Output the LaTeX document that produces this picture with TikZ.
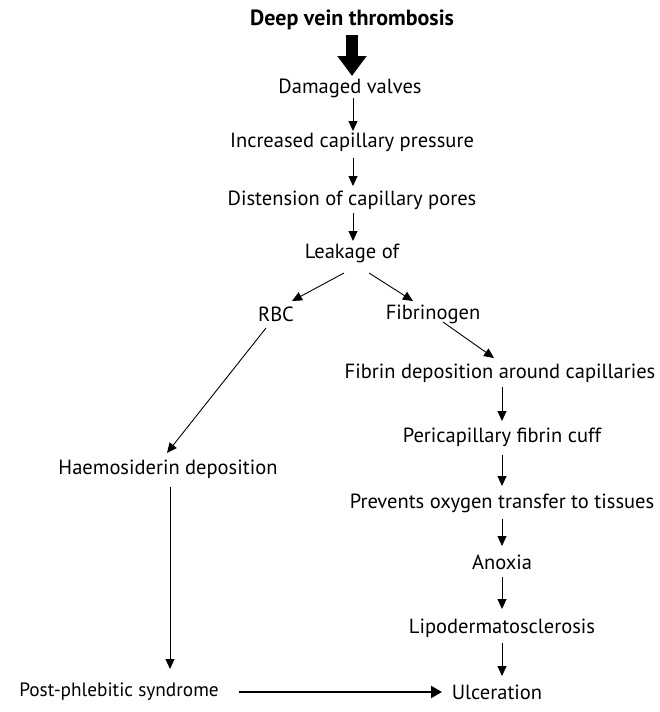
\documentclass[tikz,border=0pt]{standalone}
\usepackage{fontspec}
\setmainfont{PT Sans}
\usetikzlibrary{arrows.meta}
\begin{document}
\begin{tikzpicture}[x=1pt,y=-1pt,
  lbl/.style={font=\fontsize{20.5}{22}\selectfont, inner sep=2pt},
  arr/.style={line width=0.9pt,-{Triangle[length=10pt,width=9pt]}}]
\useasboundingbox (0,0) rectangle (659,712);
\node[lbl,font=\fontsize{22}{24}\selectfont\bfseries] (dvt) at (352,20) {Deep vein thrombosis};
\node[lbl] (dv) at (350,88) {Damaged valves};
\node[lbl] (icp) at (352,142) {Increased capillary pressure};
\node[lbl] (dcp) at (352,200) {Distension of capillary pores};
\node[lbl] (lk) at (352,253) {Leakage of};
\node[lbl] (rbc) at (276,314) {RBC};
\node[lbl] (fib) at (433,314) {Fibrinogen};
\node[lbl] (fd) at (500,373) {Fibrin deposition around capillaries};
\node[lbl] (pfc) at (502,437) {Pericapillary fibrin cuff};
\node[lbl] (pot) at (502,503) {Prevents oxygen transfer to tissues};
\node[lbl] (ax) at (502,562) {Anoxia};
\node[lbl] (lds) at (502,628) {Lipodermatosclerosis};
\node[lbl] (ulc) at (497,692) {Ulceration};
\node[lbl] (hd) at (168,469) {Haemosiderin deposition};
\node[lbl,font=\fontsize{19.3}{22}\selectfont] (pps) at (119,692) {Post-phlebitic syndrome};
\coordinate (a1) at (352,35);
\coordinate (a2) at (352,76);
\coordinate (ps) at (239,692);
\coordinate (pe) at (442,692);
\draw[line width=12pt,-{Triangle[length=20pt,width=28pt]}] (a1) -- (a2);
\draw[arr] (353,98) -- (353,131);
\draw[arr] (353,158) -- (353,186);
\draw[arr] (353,213) -- (353,241);
\draw[arr] (344,273) -- (292,301);
\draw[arr] (369,273) -- (413,301);
\draw[arr] (266,328) -- (167,453);
\draw[arr] (443,322) -- (494,358);
\draw[arr] (502,387) -- (502,421);
\draw[arr] (502,455) -- (502,486);
\draw[arr] (502,519) -- (502,546);
\draw[arr] (502,577) -- (502,609);
\draw[arr] (502,643) -- (502,676);
\draw[arr] (170,487) -- (170,669);
\draw[line width=2.2pt,-{Triangle[length=11pt,width=12pt]}] (ps) -- (pe);
\end{tikzpicture}
\end{document}
